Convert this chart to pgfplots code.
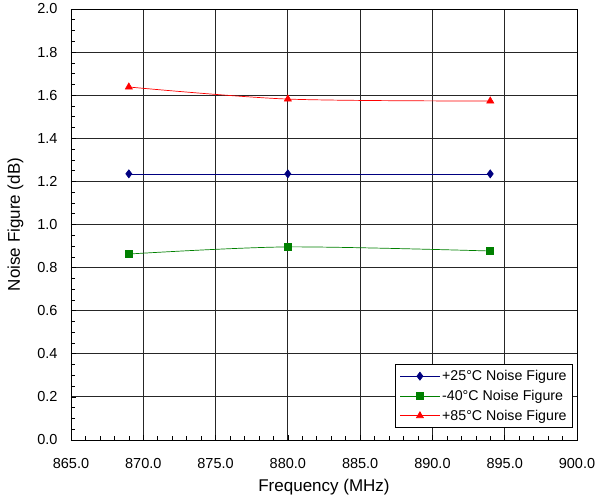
\documentclass[border=0pt]{standalone}
\usepackage{fontspec}
\setmainfont{Liberation Sans}
\usepackage{pgfplots}
\pgfplotsset{compat=1.18}
\usetikzlibrary{calc}
\definecolor{navyc}{HTML}{000080}
\definecolor{greenc}{HTML}{008000}
\definecolor{redc}{HTML}{FF0000}
\begin{document}
\begin{tikzpicture}
\begin{axis}[
  name=ax,
  scale only axis,
  width=506pt, height=431pt,
  xmin=865, xmax=900, ymin=0, ymax=2,
  xtick={865,870,...,900},
  ytick={0,0.2,...,2.0},
  minor x tick num=4,
  minor y tick num=3,
  tick pos=left,
  tick align=inside,
  major tick length=5pt,
  minor tick length=4pt,
  tick style={black, line width=0.6pt},
  grid=major,
  major grid style={black!85, line width=0.8pt},
  axis line style={black, line width=0.8pt},
  /pgf/number format/assume math mode=true,
  xticklabel style={/pgf/number format/.cd, fixed, fixed zerofill, precision=1},
  yticklabel style={/pgf/number format/.cd, fixed, fixed zerofill, precision=1},
  ticklabel style={font=\fontsize{14.5}{16}\selectfont},
  xticklabel shift=15pt,
  yticklabel shift=10pt,
  xlabel={Frequency (MHz)},
  ylabel={Noise Figure (dB)},
  label style={font=\fontsize{17}{19}\selectfont},
  xlabel style={yshift=-3.5pt},
  ylabel style={yshift=7pt},
  legend style={at={(rel axis cs:0.992,0.028)}, anchor=south east,
    font=\fontsize{14.2}{16}\selectfont, draw=black, line width=0.6pt,
    row sep=4pt, inner sep=4pt},
  legend image code/.code={\draw[mark repeat=2,mark phase=2] plot coordinates {(0cm,0cm) (0.7cm,0cm) (1.4cm,0cm)};},
  legend cell align=left,
]
\addplot[navyc, line width=0.7pt, mark=diamond*, mark size=4pt, mark options={solid, fill=navyc}]
  coordinates {(869,1.235) (880,1.235) (894,1.235)};
\addlegendentry{+25°C Noise Figure}
\addplot[greenc, line width=0.7pt, smooth, tension=0.5, mark=square*, mark size=3.5pt, mark options={solid, fill=greenc}]
  coordinates {(869,0.863) (880,0.896) (894,0.877)};
\addlegendentry{-40°C Noise Figure}
\addplot[redc, line width=0.7pt, smooth, tension=0.5, mark=triangle*, mark size=4pt, mark options={solid, fill=redc}]
  coordinates {(869,1.638) (880,1.582) (894,1.573)};
\addlegendentry{+85°C Noise Figure}
\end{axis}
\pgfresetboundingbox
\path ($(ax.south west)+(-71pt,-57pt)$) rectangle ($(ax.north east)+(19pt,9pt)$);
\end{tikzpicture}
\end{document}
